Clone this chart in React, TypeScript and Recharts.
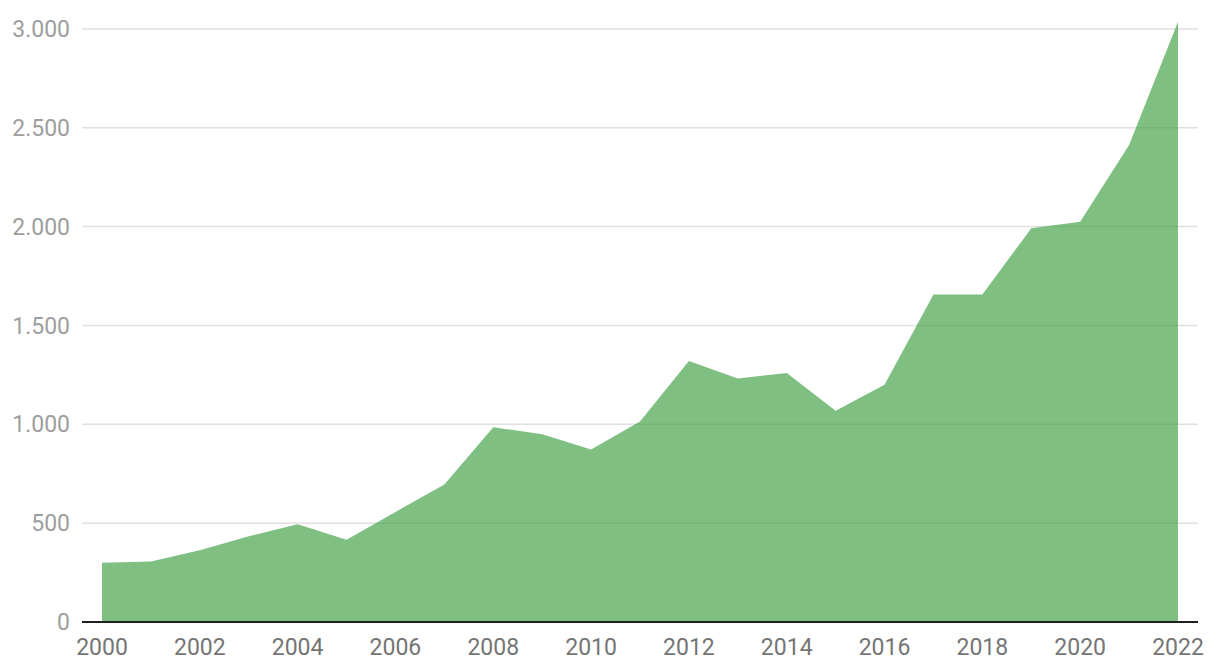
import type { JSX } from 'react';
import { AreaChart, Area, XAxis, YAxis, CartesianGrid } from 'recharts';

const years = [
  2000, 2001, 2002, 2003, 2004, 2005, 2006, 2007, 2008, 2009, 2010, 2011,
  2012, 2013, 2014, 2015, 2016, 2017, 2018, 2019, 2020, 2021, 2022,
];
const values = [
  300, 306, 363, 434, 494, 416, 557, 696, 985, 950, 872, 1014,
  1320, 1232, 1259, 1069, 1200, 1657, 1656, 1992, 2024, 2413, 3036,
];
const xTicks = [2000, 2002, 2004, 2006, 2008, 2010, 2012, 2014, 2016, 2018, 2020, 2022];
const yTicks = [0, 500, 1000, 1500, 2000, 2500, 3000];

const data = years.map((year, i) => ({ year, value: values[i] }));

// German style thousands separator: 1000 -> 1.000
const formatY = (v: number): string => String(v).replace(/\B(?=(\d{3})+(?!\d))/g, '.');

export default function App(): JSX.Element {
  return (
    <div style={{ position: 'absolute', left: 0, top: 0, fontFamily: 'Roboto' }}>
      <AreaChart
        width={1220}
        height={672}
        data={data}
        margin={{ top: 21, right: 22, bottom: 0, left: 0 }}
      >
        <CartesianGrid
          horizontal
          vertical={false}
          syncWithTicks
          stroke="#e0e0e0"
          strokeWidth={1.5}
        />
        <XAxis
          dataKey="year"
          type="number"
          domain={[2000, 2022]}
          ticks={xTicks}
          padding={{ left: 20, right: 20 }}
          height={50}
          tickLine={false}
          tickSize={0}
          tickMargin={17}
          axisLine={{ stroke: '#1f1f1f', strokeWidth: 2 }}
          tick={{ fontSize: 23, fill: '#757575', fontFamily: 'Roboto' }}
          interval={0}
        />
        <YAxis
          domain={[0, 3040]}
          ticks={yTicks}
          width={82}
          axisLine={false}
          tickLine={false}
          tickSize={0}
          tickMargin={12}
          tickFormatter={formatY}
          tick={{ fontSize: 23, fill: '#9e9e9e', fontFamily: 'Roboto' }}
          interval={0}
        />
        <Area
          type="linear"
          dataKey="value"
          stroke="none"
          fill="#43a047"
          fillOpacity={0.68}
          isAnimationActive={false}
        />
      </AreaChart>
    </div>
  );
}
